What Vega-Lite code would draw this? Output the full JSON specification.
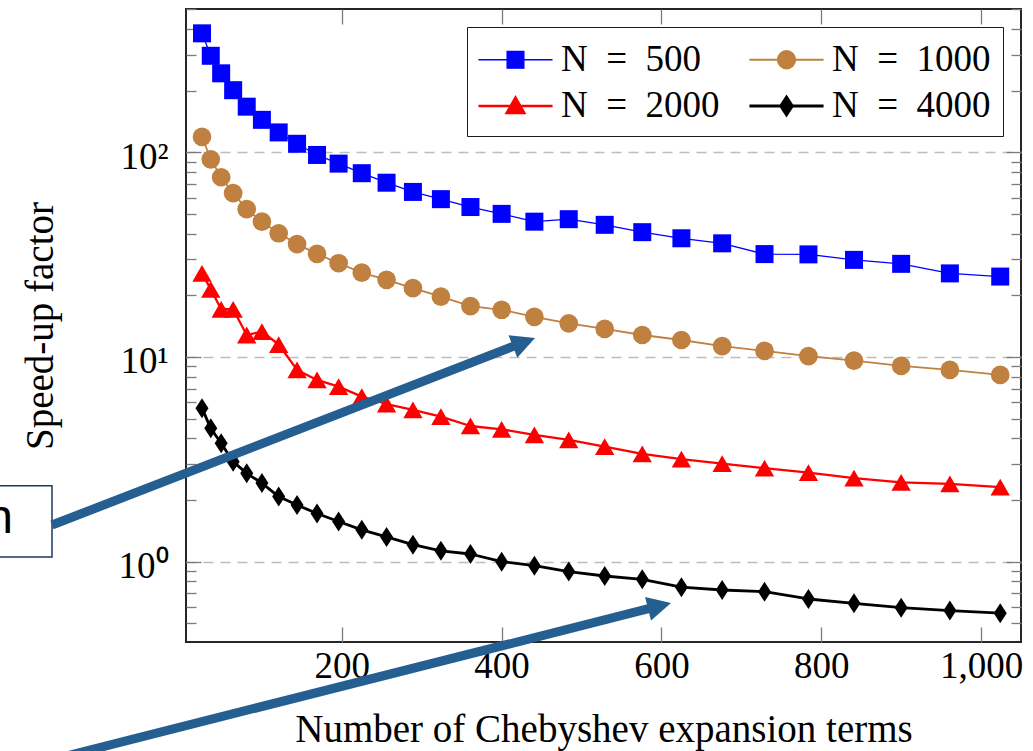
{
  "$schema": "https://vega.github.io/schema/vega-lite/v6.json",
  "width": 835,
  "height": 633,
  "autosize": {"type": "none"},
  "padding": {"left": 186, "top": 9, "right": 12, "bottom": 109},
  "background": "#ffffff",
  "config": {
    "font": "Liberation Serif",
    "view": {"stroke": "#262626", "strokeWidth": 2},
    "axis": {
      "domain": false,
      "grid": false,
      "tickColor": "#7a7a7a",
      "tickWidth": 1.3,
      "labelFont": "Liberation Serif",
      "labelFontSize": 37,
      "labelColor": "#000000",
      "titleFont": "Liberation Serif",
      "titleFontSize": 39,
      "titleFontWeight": "normal",
      "titleColor": "#000000"
    }
  },
  "datasets": {
    "speedup": [
      {"N": "N = 500", "terms": 25, "speedup": 381},
      {"N": "N = 500", "terms": 36, "speedup": 296},
      {"N": "N = 500", "terms": 49, "speedup": 243},
      {"N": "N = 500", "terms": 64, "speedup": 201},
      {"N": "N = 500", "terms": 81, "speedup": 167},
      {"N": "N = 500", "terms": 100, "speedup": 144},
      {"N": "N = 500", "terms": 121, "speedup": 125},
      {"N": "N = 500", "terms": 144, "speedup": 110},
      {"N": "N = 500", "terms": 169, "speedup": 97},
      {"N": "N = 500", "terms": 196, "speedup": 88},
      {"N": "N = 500", "terms": 225, "speedup": 79},
      {"N": "N = 500", "terms": 256, "speedup": 71},
      {"N": "N = 500", "terms": 289, "speedup": 64},
      {"N": "N = 500", "terms": 324, "speedup": 59},
      {"N": "N = 500", "terms": 361, "speedup": 54},
      {"N": "N = 500", "terms": 400, "speedup": 50},
      {"N": "N = 500", "terms": 441, "speedup": 45.8},
      {"N": "N = 500", "terms": 484, "speedup": 47.1},
      {"N": "N = 500", "terms": 529, "speedup": 44.2},
      {"N": "N = 500", "terms": 576, "speedup": 40.7},
      {"N": "N = 500", "terms": 625, "speedup": 38},
      {"N": "N = 500", "terms": 676, "speedup": 35.9},
      {"N": "N = 500", "terms": 729, "speedup": 31.8},
      {"N": "N = 500", "terms": 784, "speedup": 31.7},
      {"N": "N = 500", "terms": 841, "speedup": 29.8},
      {"N": "N = 500", "terms": 900, "speedup": 28.5},
      {"N": "N = 500", "terms": 961, "speedup": 25.6},
      {"N": "N = 500", "terms": 1024, "speedup": 24.7},
      {"N": "N = 1000", "terms": 25, "speedup": 119},
      {"N": "N = 1000", "terms": 36, "speedup": 92.4},
      {"N": "N = 1000", "terms": 49, "speedup": 75.5},
      {"N": "N = 1000", "terms": 64, "speedup": 63.1},
      {"N": "N = 1000", "terms": 81, "speedup": 52.7},
      {"N": "N = 1000", "terms": 100, "speedup": 45.8},
      {"N": "N = 1000", "terms": 121, "speedup": 40.2},
      {"N": "N = 1000", "terms": 144, "speedup": 35.6},
      {"N": "N = 1000", "terms": 169, "speedup": 31.9},
      {"N": "N = 1000", "terms": 196, "speedup": 28.7},
      {"N": "N = 1000", "terms": 225, "speedup": 25.8},
      {"N": "N = 1000", "terms": 256, "speedup": 23.8},
      {"N": "N = 1000", "terms": 289, "speedup": 21.7},
      {"N": "N = 1000", "terms": 324, "speedup": 19.7},
      {"N": "N = 1000", "terms": 361, "speedup": 17.7},
      {"N": "N = 1000", "terms": 400, "speedup": 17.0},
      {"N": "N = 1000", "terms": 441, "speedup": 15.7},
      {"N": "N = 1000", "terms": 484, "speedup": 14.6},
      {"N": "N = 1000", "terms": 529, "speedup": 13.7},
      {"N": "N = 1000", "terms": 576, "speedup": 12.8},
      {"N": "N = 1000", "terms": 625, "speedup": 12.1},
      {"N": "N = 1000", "terms": 676, "speedup": 11.3},
      {"N": "N = 1000", "terms": 729, "speedup": 10.7},
      {"N": "N = 1000", "terms": 784, "speedup": 10.1},
      {"N": "N = 1000", "terms": 841, "speedup": 9.6},
      {"N": "N = 1000", "terms": 900, "speedup": 9.04},
      {"N": "N = 1000", "terms": 961, "speedup": 8.64},
      {"N": "N = 1000", "terms": 1024, "speedup": 8.17},
      {"N": "N = 2000", "terms": 25, "speedup": 25.6},
      {"N": "N = 2000", "terms": 36, "speedup": 21.4},
      {"N": "N = 2000", "terms": 49, "speedup": 17.1},
      {"N": "N = 2000", "terms": 64, "speedup": 17.1},
      {"N": "N = 2000", "terms": 81, "speedup": 12.8},
      {"N": "N = 2000", "terms": 100, "speedup": 13.3},
      {"N": "N = 2000", "terms": 121, "speedup": 11.5},
      {"N": "N = 2000", "terms": 144, "speedup": 8.64},
      {"N": "N = 2000", "terms": 169, "speedup": 7.72},
      {"N": "N = 2000", "terms": 196, "speedup": 7.16},
      {"N": "N = 2000", "terms": 225, "speedup": 6.4},
      {"N": "N = 2000", "terms": 256, "speedup": 5.89},
      {"N": "N = 2000", "terms": 289, "speedup": 5.51},
      {"N": "N = 2000", "terms": 324, "speedup": 5.11},
      {"N": "N = 2000", "terms": 361, "speedup": 4.60},
      {"N": "N = 2000", "terms": 400, "speedup": 4.43},
      {"N": "N = 2000", "terms": 441, "speedup": 4.16},
      {"N": "N = 2000", "terms": 484, "speedup": 3.93},
      {"N": "N = 2000", "terms": 529, "speedup": 3.65},
      {"N": "N = 2000", "terms": 576, "speedup": 3.36},
      {"N": "N = 2000", "terms": 625, "speedup": 3.17},
      {"N": "N = 2000", "terms": 676, "speedup": 3.01},
      {"N": "N = 2000", "terms": 729, "speedup": 2.86},
      {"N": "N = 2000", "terms": 784, "speedup": 2.72},
      {"N": "N = 2000", "terms": 841, "speedup": 2.56},
      {"N": "N = 2000", "terms": 900, "speedup": 2.44},
      {"N": "N = 2000", "terms": 961, "speedup": 2.40},
      {"N": "N = 2000", "terms": 1024, "speedup": 2.31},
      {"N": "N = 4000", "terms": 25, "speedup": 5.62},
      {"N": "N = 4000", "terms": 36, "speedup": 4.48},
      {"N": "N = 4000", "terms": 49, "speedup": 3.79},
      {"N": "N = 4000", "terms": 64, "speedup": 3.08},
      {"N": "N = 4000", "terms": 81, "speedup": 2.70},
      {"N": "N = 4000", "terms": 100, "speedup": 2.42},
      {"N": "N = 4000", "terms": 121, "speedup": 2.08},
      {"N": "N = 4000", "terms": 144, "speedup": 1.89},
      {"N": "N = 4000", "terms": 169, "speedup": 1.72},
      {"N": "N = 4000", "terms": 196, "speedup": 1.57},
      {"N": "N = 4000", "terms": 225, "speedup": 1.43},
      {"N": "N = 4000", "terms": 256, "speedup": 1.32},
      {"N": "N = 4000", "terms": 289, "speedup": 1.21},
      {"N": "N = 4000", "terms": 324, "speedup": 1.13},
      {"N": "N = 4000", "terms": 361, "speedup": 1.09},
      {"N": "N = 4000", "terms": 400, "speedup": 1.00},
      {"N": "N = 4000", "terms": 441, "speedup": 0.956},
      {"N": "N = 4000", "terms": 484, "speedup": 0.894},
      {"N": "N = 4000", "terms": 529, "speedup": 0.851},
      {"N": "N = 4000", "terms": 576, "speedup": 0.820},
      {"N": "N = 4000", "terms": 625, "speedup": 0.750},
      {"N": "N = 4000", "terms": 676, "speedup": 0.727},
      {"N": "N = 4000", "terms": 729, "speedup": 0.713},
      {"N": "N = 4000", "terms": 784, "speedup": 0.657},
      {"N": "N = 4000", "terms": 841, "speedup": 0.626},
      {"N": "N = 4000", "terms": 900, "speedup": 0.596},
      {"N": "N = 4000", "terms": 961, "speedup": 0.577},
      {"N": "N = 4000", "terms": 1024, "speedup": 0.560}
    ]
  },
  "resolve": {
    "axis": {"x": "independent", "y": "independent"},
    "scale": {"shape": "independent", "strokeWidth": "independent", "fill": "independent", "stroke": "independent", "size": "independent"}
  },
  "layer": [
    {
      "data": {"name": "speedup"},
      "mark": {"type": "line", "strokeJoin": "round"},
      "encoding": {
        "x": {
          "field": "terms", "type": "quantitative",
          "scale": {"domain": [5, 1050], "nice": false, "zero": false},
          "axis": {
            "orient": "bottom", "values": [200, 400, 600, 800, 1000], "format": ",d",
            "tickSize": -15, "labelPadding": 21, "labelFlush": false, "labelOverlap": false,
            "title": "Number of Chebyshev expansion terms", "titlePadding": 26
          }
        },
        "y": {
          "field": "speedup", "type": "quantitative",
          "scale": {"type": "log", "domain": [0.405, 501], "nice": false},
          "axis": {
            "orient": "left", "values": [1, 10, 100], "tickSize": -15, "labelPadding": 33, "labelOffset": 5,
            "labelExpr": "datum.value === 1 ? '10\u2070' : datum.value === 10 ? '10\u00b9' : '10\u00b2'",
            "grid": true, "gridDash": [10, 7], "gridColor": "#bdbdbd", "gridWidth": 1.3,
            "title": "Speed-up factor", "titlePadding": 58
          }
        },
        "color": {
          "field": "N", "type": "nominal",
          "scale": {"domain": ["N = 500", "N = 1000", "N = 2000", "N = 4000"], "range": ["#0000ff", "#bf8040", "#ff0000", "#000000"]},
          "legend": null
        },
        "strokeWidth": {
          "field": "N", "type": "ordinal",
          "scale": {"domain": ["N = 500", "N = 1000", "N = 2000", "N = 4000"], "range": [1.3, 2.8, 4, 2.3]},
          "legend": null
        }
      }
    },
    {
      "data": {"name": "speedup"},
      "mark": {"type": "point", "filled": true, "opacity": 1},
      "encoding": {
        "x": {
          "field": "terms", "type": "quantitative",
          "scale": {"domain": [5, 1050], "nice": false, "zero": false},
          "axis": {"orient": "top", "values": [200, 400, 600, 800, 1000], "tickSize": -15, "labels": false, "title": null, "grid": false}
        },
        "y": {
          "field": "speedup", "type": "quantitative",
          "scale": {"type": "log", "domain": [0.405, 501], "nice": false},
          "axis": {"orient": "right", "values": [1, 10, 100], "tickSize": -15, "labels": false, "title": null, "grid": false}
        },
        "color": {
          "field": "N", "type": "nominal",
          "scale": {"domain": ["N = 500", "N = 1000", "N = 2000", "N = 4000"], "range": ["#0000ff", "#bf8040", "#ff0000", "#000000"]},
          "legend": null
        },
        "shape": {
          "field": "N", "type": "nominal",
          "scale": {"domain": ["N = 500", "N = 1000", "N = 2000", "N = 4000"], "range": ["square", "circle", "triangle-up", "M0,-1L0.65,0L0,1L-0.65,0Z"]},
          "legend": null
        },
        "size": {
          "field": "N", "type": "ordinal",
          "scale": {"domain": ["N = 500", "N = 1000", "N = 2000", "N = 4000"], "range": [324, 400, 441, 400]},
          "legend": null
        }
      }
    },
    {
      "data": {"name": "speedup"},
      "transform": [{"filter": "false"}],
      "mark": {"type": "point", "filled": true, "opacity": 1},
      "encoding": {
        "fill": {
          "field": "N", "type": "nominal",
          "scale": {"domain": ["N = 500", "N = 1000", "N = 2000", "N = 4000"], "range": ["#0000ff", "#bf8040", "#ff0000", "#000000"]},
          "legend": {
            "title": null, "orient": "top-right", "offset": 18, "columns": 2, "direction": "horizontal",
            "padding": 12, "rowPadding": 7, "columnPadding": 23,
            "strokeColor": "#1a1a1a", "fillColor": "#ffffff",
            "labelFont": "Liberation Serif", "labelFontSize": 37, "labelColor": "#000000", "labelLimit": 400,
            "symbolSize": 1521, "symbolOffset": 15.5, "labelOffset": 24.5,
            "labelExpr": "replace(datum.label, ' = ', '\u2002=\u2002')"
          }
        },
        "stroke": {
          "field": "N", "type": "nominal",
          "scale": {"domain": ["N = 500", "N = 1000", "N = 2000", "N = 4000"], "range": ["#0000ff", "#bf8040", "#ff0000", "#000000"]}
        },
        "shape": {
          "field": "N", "type": "nominal",
          "scale": {
            "domain": ["N = 500", "N = 1000", "N = 2000", "N = 4000"],
            "range": [
              "M-1.9,0H1.9M-0.43,-0.43H0.43V0.43H-0.43Z",
              "M-1.9,0H1.9M0.45,0A0.45,0.45,0,1,1,-0.45,0A0.45,0.45,0,1,1,0.45,0Z",
              "M-1.9,0H1.9M0,-0.44L0.46,0.36L-0.46,0.36Z",
              "M-1.9,0H1.9M0,-0.46L0.3,0L0,0.46L-0.3,0Z"
            ]
          }
        },
        "strokeWidth": {
          "field": "N", "type": "ordinal",
          "scale": {"domain": ["N = 500", "N = 1000", "N = 2000", "N = 4000"], "range": [1.3, 2.8, 4, 2.3]}
        }
      }
    },
    {
      "data": {"values": [{"left": -234, "right": -162.7, "top": 2.349, "bottom": 1.053}]},
      "mark": {"type": "rect", "fill": "#ffffff", "stroke": "#1f3864", "strokeWidth": 1.5, "clip": false},
      "encoding": {
        "x": {"field": "left", "type": "quantitative", "scale": {"domain": [5, 1050], "nice": false, "zero": false}, "axis": null},
        "x2": {"field": "right"},
        "y": {"field": "top", "type": "quantitative", "scale": {"type": "log", "domain": [0.405, 501], "nice": false}, "axis": null},
        "y2": {"field": "bottom"}
      }
    },
    {
      "data": {"values": [{"x": -211.5, "y": 1.38, "label": "n"}]},
      "mark": {"type": "text", "font": "Liberation Sans", "fontSize": 48, "align": "right", "baseline": "alphabetic", "color": "#000000", "clip": false},
      "encoding": {
        "x": {"field": "x", "type": "quantitative", "scale": {"domain": [5, 1050], "nice": false, "zero": false}, "axis": null},
        "y": {"field": "y", "type": "quantitative", "scale": {"type": "log", "domain": [0.405, 501], "nice": false}, "axis": null},
        "text": {"field": "label"}
      }
    },
    {
      "data": {"values": [{"x0": -162.7, "y0": 1.51, "x1": 424.3, "y1": 11.65}]},
      "mark": {"type": "rule", "color": "#255e91", "strokeWidth": 9, "clip": false},
      "encoding": {
        "x": {"field": "x0", "type": "quantitative", "scale": {"domain": [5, 1050], "nice": false, "zero": false}, "axis": null},
        "x2": {"field": "x1"},
        "y": {
          "field": "y0", "type": "quantitative",
          "scale": {"type": "log", "domain": [0.405, 501], "nice": false},
          "axis": {"orient": "left", "values": [0.5, 0.6, 0.7, 0.8, 0.9, 2, 3, 4, 5, 6, 7, 8, 9, 20, 30, 40, 50, 60, 70, 80, 90, 200, 300, 400, 500], "tickSize": -10, "labels": false, "title": null, "grid": false}
        },
        "y2": {"field": "y1"}
      }
    },
    {
      "data": {"values": [{"x0": -140.2, "y0": 0.1136, "x1": 593.8, "y1": 0.6022}]},
      "mark": {"type": "rule", "color": "#255e91", "strokeWidth": 9, "clip": false},
      "encoding": {
        "x": {"field": "x0", "type": "quantitative", "scale": {"domain": [5, 1050], "nice": false, "zero": false}, "axis": null},
        "x2": {"field": "x1"},
        "y": {
          "field": "y0", "type": "quantitative",
          "scale": {"type": "log", "domain": [0.405, 501], "nice": false},
          "axis": {"orient": "right", "values": [0.5, 0.6, 0.7, 0.8, 0.9, 2, 3, 4, 5, 6, 7, 8, 9, 20, 30, 40, 50, 60, 70, 80, 90, 200, 300, 400, 500], "tickSize": -10, "labels": false, "title": null, "grid": false}
        },
        "y2": {"field": "y1"}
      }
    },
    {
      "data": {"values": [{"x": 441.8, "y": 12.38}]},
      "mark": {"type": "point", "shape": "M0,0L0.92,1.8L-0.92,1.8Z", "size": 693, "angle": 68.8, "filled": true, "color": "#255e91", "opacity": 1, "clip": false},
      "encoding": {
        "x": {"field": "x", "type": "quantitative", "scale": {"domain": [5, 1050], "nice": false, "zero": false}, "axis": null},
        "y": {"field": "y", "type": "quantitative", "scale": {"type": "log", "domain": [0.405, 501], "nice": false}, "axis": null}
      }
    },
    {
      "data": {"values": [{"x": 612.0, "y": 0.6277}]},
      "mark": {"type": "point", "shape": "M0,0L0.92,1.8L-0.92,1.8Z", "size": 693, "angle": 75.8, "filled": true, "color": "#255e91", "opacity": 1, "clip": false},
      "encoding": {
        "x": {"field": "x", "type": "quantitative", "scale": {"domain": [5, 1050], "nice": false, "zero": false}, "axis": null},
        "y": {"field": "y", "type": "quantitative", "scale": {"type": "log", "domain": [0.405, 501], "nice": false}, "axis": null}
      }
    }
  ]
}
